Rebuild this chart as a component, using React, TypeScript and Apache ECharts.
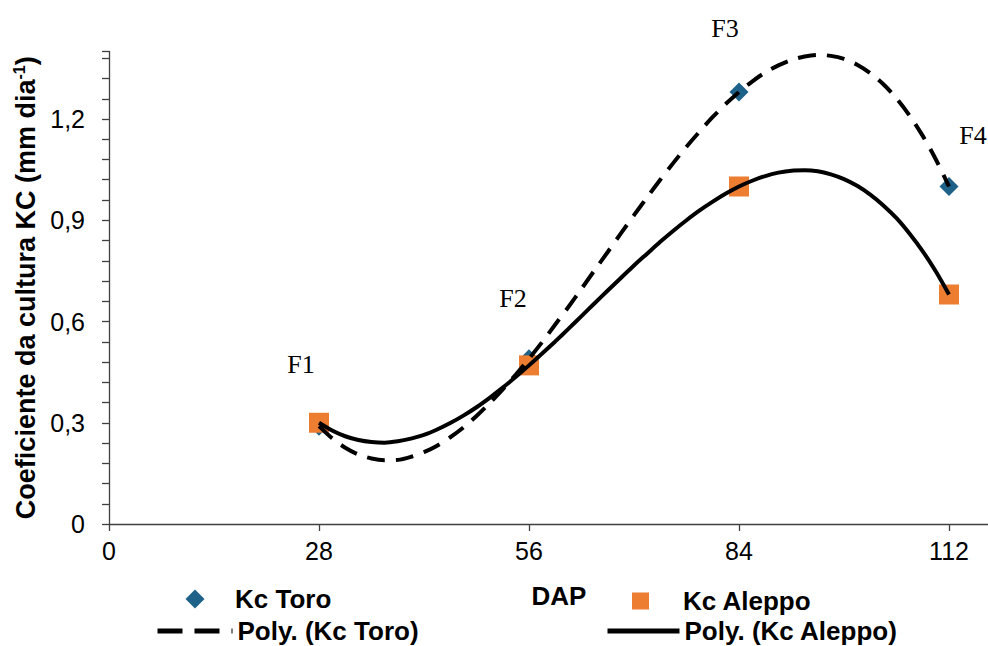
import React, { useEffect, useRef } from 'react';
import * as echarts from 'echarts';

// Observed points
const dap = [28, 56, 84, 112];
const kcToro = [0.29, 0.49, 1.28, 1.0];
const kcAleppo = [0.3, 0.47, 1.0, 0.68];
const phaseLabels = ['F1', 'F2', 'F3', 'F4'];

// Polynomial trend lines
const trendDap = [28, 29.75, 31.5, 33.25, 35, 36.75, 38.5, 40.25, 42, 43.75, 45.5, 47.25, 49, 50.75, 52.5, 54.25, 56, 57.75, 59.5, 61.25, 63, 64.75, 66.5, 68.25, 70, 71.75, 73.5, 75.25, 77, 78.75, 80.5, 82.25, 84, 85.75, 87.5, 89.25, 91, 92.75, 94.5, 96.25, 98, 99.75, 101.5, 103.25, 105, 106.75, 108.5, 110.25, 112];
const polyToro = [0.29, 0.254, 0.226, 0.206, 0.194, 0.189, 0.19, 0.199, 0.213, 0.232, 0.257, 0.286, 0.32, 0.358, 0.399, 0.443, 0.49, 0.539, 0.591, 0.643, 0.697, 0.752, 0.806, 0.861, 0.915, 0.968, 1.02, 1.07, 1.118, 1.163, 1.206, 1.245, 1.28, 1.311, 1.338, 1.359, 1.375, 1.385, 1.39, 1.387, 1.378, 1.361, 1.336, 1.303, 1.261, 1.21, 1.15, 1.08, 1.0];
const polyAleppo = [0.3, 0.277, 0.26, 0.249, 0.243, 0.241, 0.245, 0.253, 0.264, 0.28, 0.299, 0.321, 0.346, 0.374, 0.404, 0.436, 0.47, 0.505, 0.541, 0.578, 0.616, 0.654, 0.692, 0.729, 0.766, 0.801, 0.836, 0.869, 0.9, 0.929, 0.955, 0.979, 1.0, 1.017, 1.031, 1.041, 1.047, 1.048, 1.045, 1.036, 1.022, 1.002, 0.976, 0.944, 0.906, 0.86, 0.808, 0.748, 0.68];

// Tick labels
const xTicks = [0, 28, 56, 84, 112];
const yTicks = [0, 0.3, 0.6, 0.9, 1.2];

const labelOffsets = [[-18, -62], [-16, -60], [-14, -64], [24, -51]];

const SANS = '"Liberation Sans", Arial, sans-serif';
const SERIF = '"Liberation Serif", "Times New Roman", serif';
const AXIS_COLOR = '#404040';
const TORO_COLOR = '#1E6189';
const ALEPPO_COLOR = '#ED7D31';

export default function App() {
  const ref = useRef<HTMLDivElement>(null);

  useEffect(() => {
    if (!ref.current) return;
    const chart = echarts.init(ref.current, undefined, { renderer: 'svg' });

    const legendText = { fontFamily: SANS, fontSize: 26, fontWeight: 'bold', color: '#000', lineHeight: 26 };

    const option: any = {
      animation: false,
      backgroundColor: '#fff',
      grid: { left: 109, right: -21, top: 51.5, bottom: 122, containLabel: false, outerBoundsMode: 'none' },
      xAxis: {
        type: 'value',
        min: 0,
        max: 120,
        interval: 28,
        name: 'DAP',
        nameLocation: 'middle',
        nameGap: 59,
        nameTextStyle: { fontFamily: SANS, fontSize: 26, fontWeight: 'bold', color: '#000' },
        axisLine: { show: true, onZero: false, lineStyle: { color: AXIS_COLOR, width: 1.3 } },
        axisTick: { show: true, length: 7, lineStyle: { color: AXIS_COLOR, width: 1.3 } },
        axisLabel: {
          fontFamily: SANS,
          fontSize: 25,
          color: '#000',
          margin: 14,
          formatter: (v: number) => (xTicks.indexOf(v) >= 0 ? String(v) : ''),
        },
        splitLine: { show: false },
      },
      yAxis: {
        type: 'value',
        min: 0,
        max: 1.4,
        interval: 0.06,
        name: '{a|Coeficiente da cultura KC (mm dia}{s|-1}{a|)}',
        nameLocation: 'middle',
        nameGap: 67,
        nameRotate: 90,
        nameTextStyle: {
          rich: {
            a: { fontFamily: SANS, fontSize: 27, fontWeight: 'bold', color: '#000' },
            s: { fontFamily: SANS, fontSize: 16, fontWeight: 'bold', color: '#000', verticalAlign: 'top', padding: [0, 0, 12, 0] },
          },
        },
        axisLine: { show: true, lineStyle: { color: AXIS_COLOR, width: 1.3 } },
        axisTick: { show: true, length: 7, lineStyle: { color: AXIS_COLOR, width: 1.3 } },
        axisLabel: {
          fontFamily: SANS,
          fontSize: 25,
          color: '#000',
          margin: 24,
          formatter: (v: number) => {
            const hit = yTicks.find((t) => Math.abs(t - v) < 1e-6);
            if (hit === undefined) return '';
            return hit === 0 ? '0' : hit.toFixed(1).replace('.', ',');
          },
        },
        splitLine: { show: false },
      },
      legend: [
        {
          data: ['Kc Toro'], left: 185.5, top: 586, padding: 0, itemWidth: 19, itemHeight: 19,
          itemStyle: { opacity: 1 },
          textStyle: { ...legendText, padding: [0, 0, 0, 25.5] },
        },
        {
          data: ['Kc Aleppo'], left: 632, top: 588, padding: 0, itemWidth: 17, itemHeight: 17,
          itemStyle: { opacity: 1 },
          textStyle: { ...legendText, padding: [0, 0, 0, 29] },
        },
        {
          data: ['Poly. (Kc Toro)'], left: 155, top: 618, padding: 0, itemWidth: 75, itemHeight: 14,
          lineStyle: { type: [25, 12], width: 5 }, itemStyle: { opacity: 0 }, textStyle: legendText,
        },
        {
          data: ['Poly. (Kc Aleppo)'], left: 605, top: 618, padding: 0, itemWidth: 72, itemHeight: 14,
          lineStyle: { width: 5 }, itemStyle: { opacity: 0 }, textStyle: legendText,
        },
      ],
      series: [
        {
          name: 'Kc Toro',
          type: 'scatter',
          symbol: 'diamond',
          symbolSize: 19,
          itemStyle: { color: TORO_COLOR, opacity: 1 },
          data: dap.map((x, i) => ({
            value: [x, kcToro[i]],
            label: {
              show: true,
              formatter: phaseLabels[i],
              position: 'inside',
              offset: labelOffsets[i],
              fontFamily: SERIF,
              fontSize: 26,
              color: '#000',
            },
          })),
        },
        {
          name: 'Kc Aleppo',
          type: 'scatter',
          symbol: 'rect',
          symbolSize: 20,
          itemStyle: { color: ALEPPO_COLOR, opacity: 1 },
          data: dap.map((x, i) => [x, kcAleppo[i]]),
        },
        {
          name: 'Poly. (Kc Toro)',
          type: 'line',
          symbol: 'none',
          smooth: 0.3,
          clip: false,
          lineStyle: { color: '#000', width: 4, type: [18, 11] },
          itemStyle: { color: '#000' },
          data: trendDap.map((x, i) => [x, polyToro[i]]),
        },
        {
          name: 'Poly. (Kc Aleppo)',
          type: 'line',
          symbol: 'none',
          smooth: 0.3,
          clip: false,
          lineStyle: { color: '#000', width: 4, type: 'solid' },
          itemStyle: { color: '#000' },
          data: trendDap.map((x, i) => [x, polyAleppo[i]]),
        },
      ],
    };

    chart.setOption(option);
    return () => chart.dispose();
  }, []);

  return (
    <div
      ref={ref}
      style={{ position: 'fixed', left: 0, top: 0, width: 988, height: 646, background: '#fff' }}
    />
  );
}
